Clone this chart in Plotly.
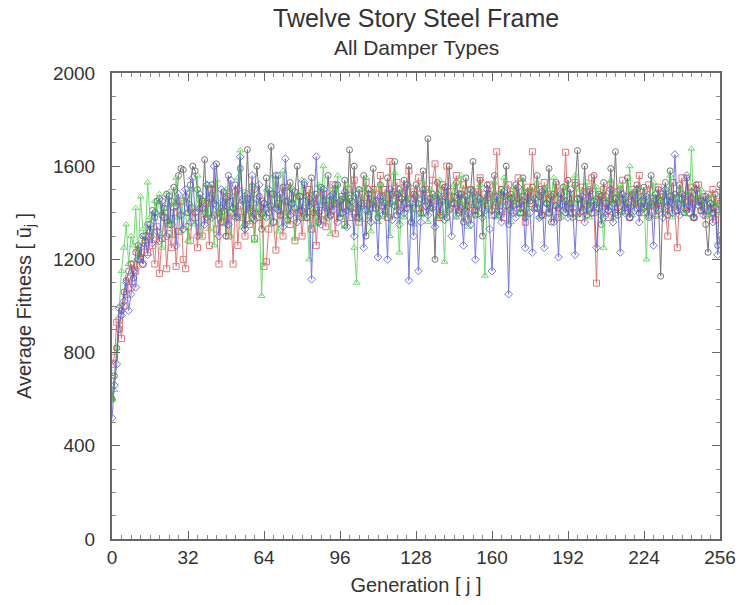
import plotly.graph_objects as go

generations = list(range(0, 257))

fitness_black = [
    600, 700, 820, 900, 980, 1060, 1110, 1150, 1180, 1120, 1230, 1260, 1210, 1300, 1280, 1350,
    1320, 1410, 1380, 1450, 1460, 1390, 1420, 1480, 1350, 1450, 1510, 1430, 1560, 1590, 1585, 1470,
    1400, 1520, 1600, 1580, 1500, 1420, 1450, 1628, 1380, 1470, 1520, 1440, 1610, 1400, 1360, 1490,
    1300, 1560, 1450, 1420, 1520, 1380, 1590, 1460, 1350, 1671, 1420, 1380, 1500, 1600, 1470, 1330,
    1440, 1550, 1400, 1684, 1480, 1420, 1560, 1390, 1510, 1450, 1370, 1530, 1440, 1490, 1600, 1410,
    1380, 1520, 1470, 1430, 1550, 1400, 1480, 1360, 1510, 1450, 1420, 1560, 1390, 1480, 1440, 1520,
    1380, 1460, 1540, 1410, 1670, 1450, 1600, 1380, 1500, 1430, 1560, 1300, 1480, 1420, 1590, 1450,
    1380, 1520, 1470, 1410, 1550, 1440, 1480, 1620, 1390, 1500, 1460, 1540, 1420, 1600, 1360, 1480,
    1520, 1440, 1400, 1580, 1450, 1718, 1420, 1480, 1200, 1530, 1390, 1460, 1510, 1380, 1600, 1440,
    1470, 1530, 1410, 1480, 1360, 1550, 1430, 1500, 1620, 1390, 1470, 1540, 1300, 1450, 1520, 1480,
    1410, 1560, 1440, 1390, 1500, 1470, 1600, 1350, 1480, 1430, 1520, 1460, 1400, 1550, 1380, 1490,
    1450, 1510, 1420, 1560, 1470, 1390, 1500, 1440, 1590, 1360, 1480, 1530, 1420, 1460, 1510, 1400,
    1540, 1440, 1380, 1520, 1667, 1460, 1410, 1600, 1390, 1500, 1450, 1560, 1420, 1480, 1350, 1530,
    1470, 1410, 1590, 1440, 1662, 1390, 1500, 1460, 1420, 1550, 1380, 1480, 1440, 1520, 1400, 1470,
    1510, 1430, 1380, 1560, 1450, 1420, 1500, 1128, 1470, 1530, 1390, 1580, 1440, 1480, 1410, 1520,
    1460, 1400, 1550, 1430, 1490, 1380, 1520, 1450, 1410, 1470, 1350, 1230, 1440, 1400, 1480, 1260,
    1520,
]

fitness_red = [
    750, 780, 930, 940, 860, 1000, 1050, 1120, 1080, 1180, 1150, 1240, 1200, 1180, 1270, 1230,
    1300, 1260, 1180, 1340, 1140, 1290, 1380, 1160, 1310, 1250, 1400, 1170, 1320, 1450, 1200, 1160,
    1340, 1280, 1420, 1380, 1250, 1460, 1300, 1370, 1440, 1260, 1500, 1390, 1330, 1180, 1420, 1360,
    1470, 1300, 1400, 1180, 1490, 1260, 1430, 1380, 1300, 1460, 1350, 1510, 1290, 1420, 1380, 1450,
    1170, 1190, 1330, 1480, 1360, 1240, 1440, 1390, 1300, 1510, 1420, 1350, 1460, 1280, 1400, 1470,
    1300, 1420, 1380, 1500, 1330, 1450, 1260, 1410, 1370, 1480, 1340, 1430, 1390, 1520, 1310, 1440,
    1400, 1470, 1350, 1500, 1430, 1380, 1540, 1420, 1360, 1480, 1440, 1530, 1390, 1460, 1500, 1420,
    1480, 1560, 1430, 1500, 1380, 1620, 1450, 1490, 1530, 1410, 1470, 1510, 1440, 1580, 1460, 1490,
    1420, 1550, 1480, 1400, 1500, 1460, 1430, 1540, 1610, 1450, 1380, 1520, 1470, 1600, 1420, 1490,
    1440, 1560, 1400, 1480, 1520, 1430, 1370, 1500, 1460, 1410, 1490, 1550, 1420, 1480, 1440, 1520,
    1390, 1470, 1662, 1430, 1500, 1380, 1460, 1520, 1410, 1490, 1440, 1550, 1400, 1470, 1360, 1510,
    1440, 1662, 1480, 1420, 1500, 1390, 1530, 1460, 1400, 1480, 1430, 1520, 1380, 1490, 1450, 1660,
    1420, 1480, 1400, 1530, 1460, 1380, 1510, 1440, 1490, 1420, 1550, 1400, 1098, 1470, 1430, 1500,
    1440, 1380, 1520, 1460, 1400, 1490, 1430, 1540, 1410, 1470, 1380, 1500, 1450, 1420, 1560, 1440,
    1400, 1480, 1520, 1430, 1460, 1390, 1510, 1440, 1480, 1420, 1300, 1470, 1530, 1410, 1250, 1490,
    1550, 1430, 1470, 1400, 1510, 1380, 1460, 1520, 1410, 1440, 1390, 1480, 1420, 1500, 1370, 1450,
    1440,
]

fitness_green = [
    600, 640, 820, 1000, 1150, 1250, 1350, 1180, 1300, 1260, 1420, 1200, 1470, 1330, 1280, 1530,
    1380, 1300, 1450, 1400, 1480, 1250, 1420, 1360, 1490, 1300, 1440, 1550, 1380, 1320, 1460, 1400,
    1280, 1500, 1420, 1350, 1560, 1300, 1460, 1400, 1520, 1330, 1480, 1260, 1540, 1390, 1450, 1350,
    1500, 1420, 1300, 1470, 1380, 1550, 1668, 1340, 1490, 1410, 1360, 1520, 1280, 1450, 1400, 1043,
    1380, 1500, 1430, 1350, 1560, 1470, 1320, 1440, 1580, 1400, 1360, 1510, 1450, 1290, 1480, 1420,
    1540, 1380, 1450, 1200, 1490, 1410, 1350, 1520, 1440, 1600, 1380, 1470, 1310, 1500, 1430, 1560,
    1390, 1460, 1340, 1520, 1410, 1480, 1250, 1100, 1500, 1370, 1460, 1550, 1400, 1320, 1490, 1430,
    1360, 1520, 1450, 1390, 1480, 1300, 1440, 1570, 1420, 1230, 1490, 1380, 1460, 1520, 1410, 1350,
    1480, 1440, 1390, 1530, 1460, 1360, 1500, 1420, 1470, 1380, 1540, 1440, 1190, 1490, 1410, 1460,
    1520, 1380, 1450, 1560, 1400, 1470, 1340, 1500, 1430, 1480, 1390, 1520, 1450, 1130, 1480, 1410,
    1460, 1530, 1380, 1490, 1440, 1550, 1410, 1470, 1360, 1510, 1430, 1480, 1400, 1540, 1450, 1390,
    1500, 1460, 1420, 1530, 1380, 1480, 1440, 1510, 1400, 1470, 1550, 1430, 1490, 1380, 1460, 1520,
    1410, 1480, 1440, 1560, 1390, 1500, 1450, 1420, 1530, 1380, 1470, 1440, 1510, 1400, 1490, 1250,
    1460, 1420, 1540, 1380, 1480, 1450, 1520, 1400, 1470, 1430, 1600, 1390, 1490, 1440, 1510, 1410,
    1460, 1200, 1480, 1430, 1530, 1390, 1470, 1450, 1410, 1500, 1440, 1560, 1380, 1480, 1420, 1510,
    1450, 1400, 1490, 1430, 1675, 1380, 1470, 1440, 1500, 1410, 1460, 1390, 1480, 1420, 1450, 1430,
    1400,
]

fitness_blue = [
    520, 660, 750, 990, 960, 1020, 1100, 980, 1050, 1150, 1080, 1200, 1250, 1180, 1300, 1220,
    1350, 1270, 1400, 1320, 1280, 1450, 1380, 1300, 1470, 1350, 1420, 1260, 1480, 1390, 1330, 1500,
    1440, 1360, 1550, 1400, 1300, 1480, 1420, 1350, 1520, 1460, 1380, 1600, 1430, 1300, 1500, 1410,
    1460, 1350, 1540, 1420, 1380, 1500, 1640, 1450, 1330, 1480, 1410, 1560, 1370, 1460, 1520, 1400,
    1440, 1380, 1500, 1430, 1360, 1560, 1410, 1480, 1340, 1632, 1450, 1390, 1500, 1420, 1360, 1470,
    1410, 1530, 1380, 1460, 1115, 1440, 1641, 1400, 1350, 1500, 1430, 1380, 1470, 1410, 1520, 1360,
    1450, 1400, 1490, 1340, 1460, 1420, 1300, 1480, 1380, 1440, 1250, 1410, 1500, 1360, 1450, 1420,
    1210, 1470, 1390, 1440, 1200, 1500, 1370, 1430, 1480, 1350, 1460, 1400, 1520, 1110, 1440, 1300,
    1470, 1150, 1360, 1500, 1430, 1390, 1460, 1420, 1340, 1480, 1400, 1450, 1370, 1510, 1410, 1300,
    1440, 1390, 1480, 1420, 1260, 1470, 1400, 1350, 1490, 1200, 1430, 1460, 1380, 1410, 1500, 1330,
    1150, 1390, 1470, 1410, 1360, 1490, 1430, 1051, 1460, 1400, 1380, 1510, 1420, 1450, 1250, 1480,
    1400, 1230, 1460, 1420, 1380, 1490, 1250, 1440, 1400, 1470, 1360, 1430, 1210, 1480, 1410, 1450,
    1380, 1500, 1420, 1220, 1460, 1400, 1470, 1360, 1430, 1490, 1400, 1450, 1250, 1420, 1470, 1380,
    1440, 1410, 1500, 1360, 1460, 1420, 1230, 1480, 1400, 1440, 1380, 1470, 1410, 1500, 1360, 1450,
    1420, 1470, 1390, 1440, 1260, 1480, 1410, 1450, 1380, 1500, 1430, 1470, 1400, 1650, 1440, 1390,
    1480, 1420, 1560, 1400, 1460, 1380, 1500, 1430, 1450, 1390, 1470, 1410, 1440, 1360, 1420, 1220,
    1300,
]

x_ticks = [0, 32, 64, 96, 128, 160, 192, 224, 256]
y_ticks = [0, 400, 800, 1200, 1600, 2000]

series = [
    ("Black", fitness_black, "#4a4a4a", "circle-open"),
    ("Red", fitness_red, "#e04a4a", "square-open"),
    ("Green", fitness_green, "#3fd23f", "triangle-up-open"),
    ("Blue", fitness_blue, "#4a4ae6", "diamond-open"),
]

fig = go.Figure()
for name, vals, color, sym in series:
    fig.add_trace(go.Scatter(
        x=generations, y=vals, mode="lines+markers", name=name,
        line=dict(color=color, width=1),
        marker=dict(symbol=sym, size=6, color=color, line=dict(width=1, color=color)),
        opacity=0.75, showlegend=False,
    ))

font_family = "Liberation Sans, Arial, sans-serif"
axis_common = dict(
    showline=True, linecolor="#666666", linewidth=2, mirror="ticks",
    ticks="inside", ticklen=8, tickwidth=1, tickcolor="#666666",
    showgrid=False, zeroline=False,
    tickfont=dict(family=font_family, size=19, color="#333333"),
    ticklabeloverflow="allow",
)

fig.update_xaxes(
    range=[0, 256], tickvals=x_ticks, ticktext=[str(v) for v in x_ticks],
    minor=dict(dtick=4, tick0=0, ticks="inside", ticklen=4, tickcolor="#888888"),
    title=dict(text="Generation [ j ]", font=dict(family=font_family, size=20, color="#333333"), standoff=11),
    ticklabelstandoff=0,
    **axis_common,
)
fig.update_yaxes(
    range=[0, 2000], tickvals=y_ticks, ticktext=[str(v) for v in y_ticks],
    minor=dict(dtick=100, tick0=0, ticks="inside", ticklen=4, tickcolor="#888888"),
    title=dict(text="Average Fitness [ ū<sub>j</sub> ]", font=dict(family=font_family, size=20, color="#333333"), standoff=16),
    ticklabelstandoff=11,
    **axis_common,
)

fig.update_layout(
    width=748, height=605,
    margin=dict(l=112, r=22, t=73, b=64),
    plot_bgcolor="white", paper_bgcolor="white",
    annotations=[
        dict(text="Twelve Story Steel Frame", xref="paper", yref="paper", x=0.5, y=1.1175,
             xanchor="center", yanchor="middle", showarrow=False,
             font=dict(family=font_family, size=25, color="#333333")),
        dict(text="All Damper Types", xref="paper", yref="paper", x=0.5, y=1.0556,
             xanchor="center", yanchor="middle", showarrow=False,
             font=dict(family=font_family, size=21, color="#333333")),
    ],
)

fig.write_html(
    "out.html",
    config={"displayModeBar": False},
    post_script="document.body.style.margin='0';document.body.style.padding='0';document.body.style.overflow='hidden';",
)
